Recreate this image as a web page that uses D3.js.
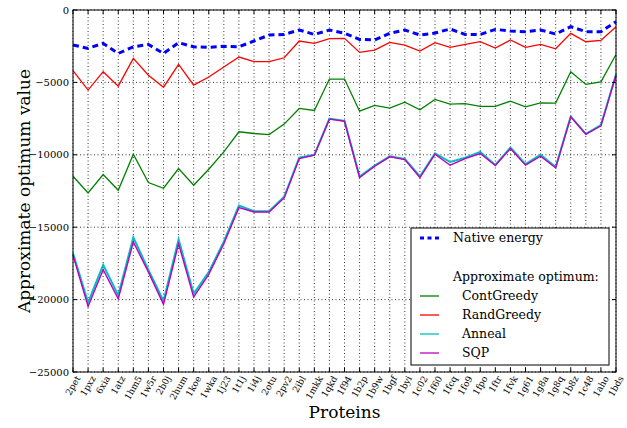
<!DOCTYPE html>
<html><head><meta charset="utf-8">
<script src="https://cdn.jsdelivr.net/npm/d3@7"></script>
<style>body{margin:0;background:#fff}svg{display:block}text{font-family:"DejaVu Serif",serif}</style>
</head><body>
<svg id="c" width="627" height="428"></svg>
<script>
const categories = ["2pet","1pxz","6xia","1atz","1hm5","1w5r","2b0j","2hum","1koe","1wka","1j23","1t1j","1i4j","2otu","2pv2","2ibl","1mkk","1qkd","1f94","1b2p","1b9w","1bgf","1byi","1c02","1f60","1fcq","1fo9","1fpo","1ftr","1fvk","1g61","1g8a","1g8q","1b8z","1c48","1aho","1bds"];
const nativeEnergy = [-2420,-2650,-2300,-3000,-2540,-2380,-3000,-2260,-2540,-2580,-2510,-2540,-2140,-1730,-1690,-1380,-1690,-1380,-1610,-2030,-2070,-1610,-1380,-1730,-1590,-1310,-1690,-1690,-1340,-1450,-1500,-1380,-1660,-1150,-1500,-1500,-810];
const contGreedy = [-11480,-12640,-11360,-12450,-9960,-11920,-12310,-10950,-12100,-11000,-9800,-8410,-8530,-8600,-7880,-6800,-6940,-4770,-4770,-6990,-6590,-6780,-6360,-6890,-6180,-6500,-6460,-6660,-6660,-6290,-6690,-6410,-6430,-4260,-5140,-4960,-3070];
const randGreedy = [-4190,-5530,-4260,-5260,-3340,-4500,-5330,-3760,-5190,-4630,-3940,-3250,-3570,-3570,-3300,-2140,-2300,-1980,-1960,-2930,-2770,-2240,-2420,-2840,-2260,-2580,-2380,-2190,-2630,-2070,-2580,-2380,-2680,-1610,-2190,-2100,-1150];
const anneal = [-16800,-20200,-17600,-19700,-15700,-17950,-20100,-15850,-19600,-18100,-16000,-13500,-13900,-13900,-12900,-10200,-10000,-7500,-7650,-11500,-10750,-10100,-10280,-11500,-9900,-10500,-10200,-9800,-10700,-9500,-10650,-10000,-10850,-7350,-8550,-7950,-4450];
const sqp = [-16940,-20470,-17940,-19940,-16020,-18100,-20330,-16140,-19830,-18260,-16140,-13650,-13950,-13950,-12980,-10260,-10030,-7540,-7680,-11570,-10790,-10140,-10330,-11570,-9960,-10720,-10260,-9910,-10740,-9570,-10720,-10100,-10900,-7380,-8580,-8000,-4500];
const yTicks = [0,-5000,-10000,-15000,-20000,-25000];

const svg = d3.select("#c");
const L=73,R=616,T=10,B=372;
const x = d3.scalePoint().domain(categories).range([L,R]);
const y = d3.scaleLinear().domain([-25000,0]).range([B,T]);
const fmt = v => v<0 ? "\u2212"+Math.abs(v) : String(v);

// grid
const g = svg.append("g");
categories.forEach(c=>{
  g.append("line").attr("x1",x(c)).attr("x2",x(c)).attr("y1",T).attr("y2",B)
   .attr("stroke","#000").attr("stroke-width",0.8).attr("stroke-dasharray","1,2.5");
});
yTicks.forEach(v=>{
  g.append("line").attr("x1",L).attr("x2",R).attr("y1",y(v)).attr("y2",y(v))
   .attr("stroke","#000").attr("stroke-width",0.8).attr("stroke-dasharray","1,2.5");
});

// series
const line = d3.line().x((d,i)=>x(categories[i])).y(d=>y(d));
const series = [
  {d:contGreedy,c:"#008000",w:1.3},
  {d:randGreedy,c:"#ff0000",w:1.3},
  {d:anneal,c:"#00bfbf",w:2},
  {d:sqp,c:"#bf00bf",w:1.4},
];
series.forEach(s=>{
  svg.append("path").attr("d",line(s.d)).attr("fill","none").attr("stroke",s.c).attr("stroke-width",s.w).attr("stroke-linejoin","miter");
});
svg.append("path").attr("d",line(nativeEnergy)).attr("fill","none").attr("stroke","#0000ff")
  .attr("stroke-width",3).attr("stroke-dasharray","6,4");

// frame
svg.append("rect").attr("x",L).attr("y",T).attr("width",R-L).attr("height",B-T)
  .attr("fill","none").attr("stroke","#000").attr("stroke-width",1);

// ticks
categories.forEach(c=>{
  svg.append("line").attr("x1",x(c)).attr("x2",x(c)).attr("y1",B).attr("y2",B-4).attr("stroke","#000");
  svg.append("line").attr("x1",x(c)).attr("x2",x(c)).attr("y1",T).attr("y2",T+4).attr("stroke","#000");
});
yTicks.forEach(v=>{
  svg.append("line").attr("x1",L).attr("x2",L+4).attr("y1",y(v)).attr("y2",y(v)).attr("stroke","#000");
  svg.append("line").attr("x1",R).attr("x2",R-4).attr("y1",y(v)).attr("y2",y(v)).attr("stroke","#000");
  svg.append("text").attr("x",L-4).attr("y",y(v)).attr("dy","0.35em").attr("text-anchor","end")
    .attr("font-size",10).text(fmt(v));
});

// x tick labels, rotated 60 deg, bbox centered on tick
const fs=9, ang=60*Math.PI/180;
categories.forEach(c=>{
  const t = svg.append("text").attr("font-size",fs).attr("text-anchor","middle")
    .attr("dominant-baseline","central").text(c);
  const len = t.node().getComputedTextLength();
  const h = fs*0.75;
  const bh = len*Math.sin(ang)+h*Math.cos(ang);
  const cy = B+3+bh/2;
  t.attr("transform",`translate(${x(c)},${cy}) rotate(-60)`);
});

// axis labels
svg.append("text").attr("x",(L+R)/2).attr("y",418).attr("text-anchor","middle").attr("font-size",17).text("Proteins");
svg.append("text").attr("transform",`translate(24,${(T+B)/2}) rotate(-90)`).attr("text-anchor","middle")
  .attr("dy","0.35em").attr("font-size",17).text("Approximate optimum value");

// legend
const lg = svg.append("g");
lg.append("rect").attr("x",411).attr("y",228).attr("width",198).attr("height",137)
  .attr("fill","#fff").attr("stroke","#000").attr("stroke-width",1);
const items = [
  {label:"Native energy",c:"#0000ff",dash:true,y:238,tx:453},
  {label:"Approximate optimum:",c:null,y:277,tx:453},
  {label:"ContGreedy",c:"#008000",y:296,tx:462},
  {label:"RandGreedy",c:"#ff0000",y:315,tx:462},
  {label:"Anneal",c:"#00bfbf",y:334,tx:462},
  {label:"SQP",c:"#bf00bf",y:353,tx:462},
];
items.forEach(it=>{
  if(it.c){
    const l = lg.append("line").attr("x1",420).attr("x2",439).attr("y1",it.y).attr("y2",it.y).attr("stroke",it.c);
    if(it.dash) l.attr("stroke-width",3).attr("stroke-dasharray","4,3.5");
    else l.attr("stroke-width",1.3);
  }
  lg.append("text").attr("x",it.tx).attr("y",it.y).attr("dy","0.35em").attr("font-size",12.5).text(it.label);
});
</script>
</body></html>
